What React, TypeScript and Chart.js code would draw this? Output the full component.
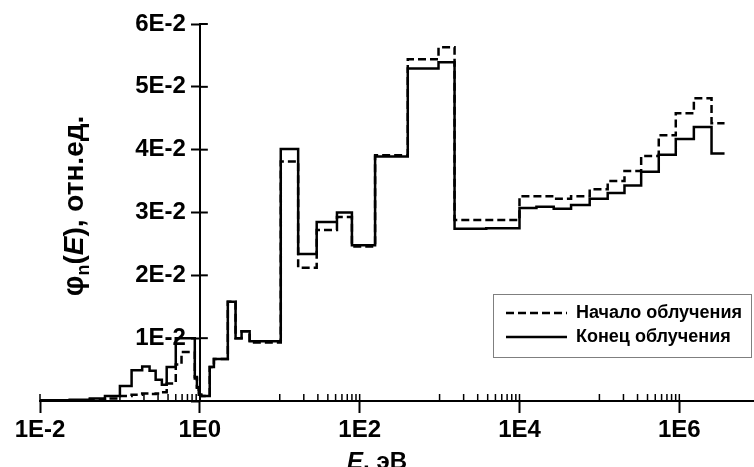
import React, { useEffect, useRef } from 'react';
import { Chart, registerables } from 'chart.js';

Chart.register(...registerables);

// ---------- data ----------
// group boundaries, eV
const energyEdges = [
  0.01, 0.0235, 0.042, 0.065, 0.1, 0.14, 0.19, 0.235, 0.28, 0.335, 0.385, 0.5,
  0.59, 0.865, 0.92, 0.97, 1.04, 1.33, 1.5, 2.24, 2.8, 3.33, 4.2, 10.3, 17, 29,
  52, 80, 156, 400, 970, 1540, 3840, 1e4, 16300, 26800, 44200, 75600, 127000,
  206000, 333000, 553000, 903000, 1.52e6, 2.53e6, 3.68e6,
];
// "Начало облучения" (dashed)
const initialFlux = [
  0.0000, 0.0001, 0.0002, 0.0004, 0.0008, 0.0010, 0.0012, 0.0011, 0.0012, 0.0014,
  0.0028, 0.0058, 0.0078, 0.0036, 0.0021, 0.0010, 0.0008, 0.0054, 0.0067, 0.0158,
  0.0100, 0.0111, 0.0093, 0.0381, 0.0212, 0.0272, 0.0293, 0.0246, 0.0391, 0.0544,
  0.0563, 0.0288, 0.0288, 0.0326, 0.0326, 0.0322, 0.0326, 0.0337, 0.0350, 0.0366,
  0.0390, 0.0423, 0.0458, 0.0482, 0.0442,
];
// "Конец облучения" (solid)
const finalFlux = [
  0.0001, 0.0002, 0.0004, 0.0008, 0.0024, 0.0049, 0.0055, 0.0048, 0.0034, 0.0026,
  0.0054, 0.0100, 0.0100, 0.0038, 0.0022, 0.0010, 0.0008, 0.0054, 0.0067, 0.0158,
  0.0100, 0.0111, 0.0095, 0.0401, 0.0234, 0.0285, 0.0300, 0.0248, 0.0389, 0.0529,
  0.0539, 0.0274, 0.0275, 0.0307, 0.0309, 0.0306, 0.0312, 0.0322, 0.0331, 0.0343,
  0.0365, 0.0392, 0.0417, 0.0436, 0.0394,
];
const seriesLabels = ['Начало облучения', 'Конец облучения'];

const xMajorTicks = [1e-2, 1, 1e2, 1e4, 1e6];
const xMajorLabels = ['1E-2', '1E0', '1E2', '1E4', '1E6'];
const xMinorDecades = [1e-1, 1e1, 1e3, 1e5];
const yTicks = [0.01, 0.02, 0.03, 0.04, 0.05, 0.06];
const yTickLabels = ['1E-2', '2E-2', '3E-2', '4E-2', '5E-2', '6E-2'];

const FONT = "'Liberation Sans', Arial, sans-serif";
const Y_TICK_LEN = 8;
const Y_LABEL_PAD = 6;

function stepPoints(values: number[]) {
  // value i holds on [edge i, edge i+1]
  const pts = values.map((v, i) => ({ x: energyEdges[i], y: v }));
  pts.push({ x: energyEdges[values.length], y: values[values.length - 1] });
  return pts;
}

function near(a: number, b: number) {
  return Math.abs(Math.log10(a) - Math.log10(b)) < 1e-6;
}

const extrasPlugin = {
  id: 'extras',
  beforeDraw(chart: any) {
    // place y tick labels left of the outward tick marks
    const ys = chart.scales.y;
    const items = ys.getLabelItems(chart.chartArea);
    if (!ys.$shifted) {
      items.forEach((it: any) => {
        it.options.translation[0] -= Y_TICK_LEN + Y_LABEL_PAD;
      });
      ys.$shifted = true;
    }
  },
  afterDraw(chart: any) {
    const { ctx, chartArea, scales } = chart;
    const xs = scales.x;
    const ys = scales.y;
    ctx.save();
    ctx.strokeStyle = '#000';
    // upward tick marks on the x axis
    const yb = chartArea.bottom;
    xs.ticks.forEach((t: any) => {
      const px = xs.getPixelForValue(t.value);
      ctx.lineWidth = 1.5;
      ctx.beginPath();
      ctx.moveTo(px, yb);
      ctx.lineTo(px, yb - 7);
      ctx.stroke();
    });
    // inward tick marks on the y axis
    const ax = xs.getPixelForValue(1);
    ys.ticks.forEach((t: any) => {
      if (t.value === 0) return;
      const py = ys.getPixelForValue(t.value);
      ctx.lineWidth = 2;
      ctx.beginPath();
      ctx.moveTo(ax, py);
      ctx.lineTo(ax + Y_TICK_LEN, py);
      ctx.stroke();
    });

    ctx.fillStyle = '#000';
    // x axis title: E, эВ
    {
      const p1 = { t: 'E', f: `italic bold 24px ${FONT}` };
      const p2 = { t: ', эВ', f: `bold 24px ${FONT}` };
      ctx.font = p1.f;
      const w1 = ctx.measureText(p1.t).width;
      ctx.font = p2.f;
      const w2 = ctx.measureText(p2.t).width;
      const cx = 377;
      const x0 = cx - (w1 + w2) / 2;
      const by = 469;
      ctx.textBaseline = 'alphabetic';
      ctx.textAlign = 'left';
      ctx.font = p1.f;
      ctx.fillText(p1.t, x0, by);
      ctx.font = p2.f;
      ctx.fillText(p2.t, x0 + w1, by);
    }
    // y axis title: φn(E), отн.ед.
    {
      const parts = [
        { t: 'φ', f: `bold 29px ${FONT}`, dy: 0 },
        { t: 'n', f: `bold 18px ${FONT}`, dy: 6 },
        { t: '(', f: `bold 28px ${FONT}`, dy: 0 },
        { t: 'E', f: `italic bold 28px ${FONT}`, dy: 0 },
        { t: '), отн.ед.', f: `bold 28px ${FONT}`, dy: 0 },
      ];
      let total = 0;
      const ws = parts.map((p) => {
        ctx.font = p.f;
        const w = ctx.measureText(p.t).width;
        total += w;
        return w;
      });
      ctx.translate(73, 206);
      ctx.rotate(-Math.PI / 2);
      let x0 = -total / 2;
      ctx.textAlign = 'left';
      ctx.textBaseline = 'alphabetic';
      parts.forEach((p, i) => {
        ctx.font = p.f;
        ctx.fillText(p.t, x0, 10 + p.dy);
        x0 += ws[i];
      });
      ctx.setTransform(1, 0, 0, 1, 0, 0);
    }
    // legend
    {
      const bx = 493, by = 294, bw = 258, bh = 63;
      ctx.fillStyle = '#fff';
      ctx.fillRect(bx, by, bw, bh);
      ctx.strokeStyle = '#7f7f7f';
      ctx.lineWidth = 1;
      ctx.setLineDash([]);
      ctx.strokeRect(bx + 0.5, by + 0.5, bw, bh);
      const rows = [313, 337];
      chart.data.datasets.forEach((ds: any, i: number) => {
        const ry = rows[i];
        ctx.strokeStyle = '#000';
        ctx.lineWidth = 2.5;
        ctx.setLineDash(ds.borderDash || []);
        ctx.beginPath();
        ctx.moveTo(506, ry);
        ctx.lineTo(567, ry);
        ctx.stroke();
        ctx.setLineDash([]);
        ctx.fillStyle = '#000';
        ctx.font = `bold 18px ${FONT}`;
        ctx.textAlign = 'left';
        ctx.textBaseline = 'middle';
        ctx.fillText(ds.label, 576, ry);
      });
    }
    ctx.restore();
  },
};

export default function App() {
  const ref = useRef<HTMLCanvasElement>(null);
  useEffect(() => {
    if (!ref.current) return;
    const tickFont = { family: FONT, size: 24, weight: 'bold' as const };
    const chart = new Chart(ref.current, {
      type: 'line',
      data: {
        datasets: [
          {
            label: seriesLabels[0],
            data: stepPoints(initialFlux),
            stepped: 'before',
            borderColor: '#000',
            borderWidth: 2.5,
            borderDash: [8, 4],
            pointRadius: 0,
            fill: false,
          },
          {
            label: seriesLabels[1],
            data: stepPoints(finalFlux),
            stepped: 'before',
            borderColor: '#000',
            borderWidth: 2.5,
            pointRadius: 0,
            fill: false,
          },
        ],
      },
      options: {
        animation: false,
        responsive: false,
        devicePixelRatio: 1,
        layout: { padding: { left: 40, top: 24, right: 0, bottom: 0 } },
        plugins: { legend: { display: false }, tooltip: { enabled: false } },
        scales: {
          x: {
            type: 'logarithmic',
            min: 0.01,
            max: 8.6e6,
            afterBuildTicks: (scale: any) => {
              const t: any[] = xMajorTicks.map((v) => ({ value: v, major: true }));
              xMinorDecades.forEach((d) => {
                for (let m = 1; m <= 9; m++) t.push({ value: d * m, major: false });
              });
              t.sort((a, b) => a.value - b.value);
              scale.ticks = t;
            },
            afterFit: (scale: any) => {
              scale.height = 66;
            },
            ticks: {
              autoSkip: false,
              maxRotation: 0,
              minRotation: 0,
              padding: 3,
              color: '#000',
              font: tickFont,
              callback: (value: any) => {
                const i = xMajorTicks.findIndex((m) => near(m, Number(value)));
                return i >= 0 ? xMajorLabels[i] : '';
              },
            },
            grid: {
              drawOnChartArea: false,
              drawTicks: true,
              tickLength: 12,
              tickWidth: 2,
              tickColor: (c: any) => (c.tick && c.tick.major ? '#000' : 'rgba(0,0,0,0)'),
            },
            border: { display: true, color: '#000', width: 2 },
          },
          y: {
            type: 'linear',
            min: 0,
            max: 0.06,
            position: { x: 1 } as any,
            afterBuildTicks: (scale: any) => {
              scale.ticks = [0, ...yTicks].map((v) => ({ value: v }));
            },
            afterUpdate: (scale: any) => {
              scale.$shifted = false;
            },
            ticks: {
              padding: Y_LABEL_PAD,
              color: '#000',
              font: tickFont,
              callback: (value: any) => {
                const i = yTicks.findIndex((m) => Math.abs(m - Number(value)) < 1e-9);
                return i >= 0 ? yTickLabels[i] : '';
              },
            },
            grid: {
              drawOnChartArea: false,
              tickLength: Y_TICK_LEN,
              tickWidth: 2,
              tickColor: '#000',
            },
            border: { display: true, color: '#000', width: 2 },
          },
        },
      } as any,
      plugins: [extrasPlugin],
    });
    return () => chart.destroy();
  }, []);
  return (
    <div style={{ position: 'absolute', left: 0, top: 0, width: 754, height: 467, background: '#fff' }}>
      <canvas ref={ref} width={754} height={467} style={{ display: 'block' }} />
    </div>
  );
}
